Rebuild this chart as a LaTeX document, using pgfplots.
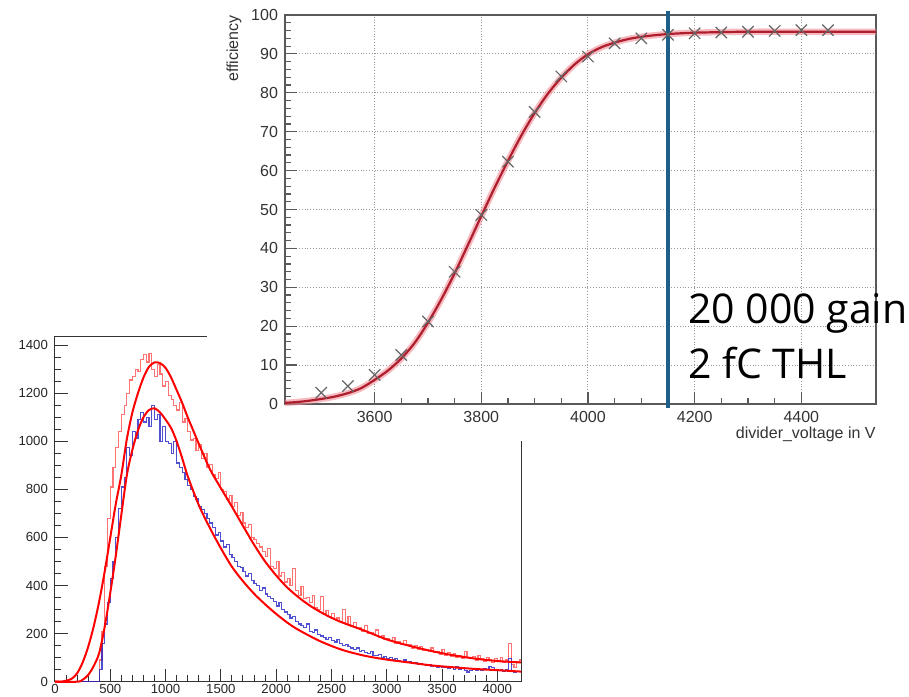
\documentclass[border=0pt]{standalone}
\usepackage{pgfplots}
\usepackage{pgfplotstable}
\pgfplotsset{compat=1.18}
\usepackage{fontspec}
\setmainfont{Liberation Sans}
\newfontfamily\bigfont{Open Sans}
\definecolor{fitred}{RGB}{175,30,45}
\definecolor{halo}{RGB}{240,140,150}
\definecolor{vblue}{RGB}{28,96,138}
\definecolor{hblue}{RGB}{35,35,195}

% efficiency fit curve
\pgfplotstableread{
x y
3432 0.3
3450 0.45
3475 0.8
3500 1.3
3525 1.9
3550 2.8
3575 4.1
3600 6.2
3625 8.6
3650 11.7
3675 15.7
3700 20.9
3725 26.9
3750 33.6
3775 40.9
3800 48.3
3825 55.6
3850 62.5
3875 69.0
3900 74.8
3925 79.8
3950 83.9
3975 87.3
4000 89.9
4025 91.7
4050 92.9
4075 93.8
4100 94.4
4125 94.8
4150 95.1
4175 95.3
4200 95.45
4250 95.6
4300 95.7
4400 95.7
4540 95.7
}\effit

% measured efficiency
\pgfplotstableread{
x y
3500 2.9
3550 4.6
3600 7.5
3650 12.6
3700 21.2
3750 34.0
3800 48.6
3850 62.3
3900 75.1
3950 84.2
4000 89.3
4050 92.7
4100 94.0
4150 94.9
4200 95.3
4250 95.5
4300 95.7
4350 95.9
4400 96.1
4450 96.1
}\effdata

% upper fit (red histogram)
\pgfplotstableread{
x y
0 0
50 0
100 4
150 12
200 35
250 80
300 145
350 230
400 335
450 460
500 600
550 740
600 860
650 1010
700 1120
750 1200
800 1265
850 1310
900 1328
950 1325
1000 1305
1050 1265
1100 1213
1150 1160
1200 1100
1250 1045
1300 990
1400 885
1500 805
1600 728
1700 648
1800 570
1900 500
2000 442
2100 392
2200 352
2300 318
2400 290
2500 266
2600 246
2800 212
3000 176
3200 150
3400 128
3600 110
3800 96
4000 86
4214 80
}\fitup

% lower fit (blue histogram)
\pgfplotstableread{
x y
0 0
200 0
250 8
300 28
350 65
400 120
450 230
500 370
550 525
600 695
650 860
700 965
750 1045
800 1100
850 1130
900 1137
950 1120
1000 1090
1050 1055
1100 1000
1150 930
1200 855
1300 735
1400 640
1500 555
1600 478
1700 418
1800 366
1900 322
2000 282
2100 246
2200 216
2400 168
2600 132
2800 108
3000 92
3200 80
3400 68
3600 60
3800 53
4000 48
4214 42
}\fitlow

\begin{document}
\begin{tikzpicture}
\path[use as bounding box] (0,0) rectangle (454.5pt,348pt);

% ---------------- bottom plot ----------------
\begin{axis}[
  at={(27.5pt,7.15pt)}, anchor=south west, scale only axis,
  width=233pt, height=172.5pt,
  xmin=0, xmax=4214, ymin=0, ymax=1435,
  xtick={0,500,...,4000}, ytick={0,200,...,1400},
  minor x tick num=4, minor y tick num=3,
  tick align=inside, xtick pos=left, ytick pos=left,
  major tick length=6.5pt, minor tick length=3.2pt,
  axis line style={black!80, line width=0.5pt},
  tick style={black!80, line width=0.5pt},
  ticklabel style={font=\fontsize{6.6}{7.5}\selectfont, text=black!85},
  xticklabel style={yshift=2pt},
  /pgf/number format/assume math mode=true,
  /pgf/number format/1000 sep={},
  clip=false,
]
\addplot[const plot, color=red, opacity=0.55, line width=0.6pt] coordinates {
(200,0)(400,90)(425,210)(450,480)(475,680)(500,810)(525,890)(550,975)(575,1040)(600,1110)
(625,1150)(650,1200)(675,1255)(700,1270)(725,1300)(750,1290)(775,1340)(800,1360)(825,1330)(850,1365)
(875,1300)(900,1270)(925,1320)(950,1280)(975,1230)(1000,1250)(1025,1190)(1050,1175)(1075,1150)(1100,1130)
(1125,1160)(1150,1080)(1175,1095)(1200,1040)(1225,1005)(1250,1010)(1275,960)(1300,985)(1325,930)(1350,950)
(1375,890)(1400,905)(1425,860)(1450,845)(1475,870)(1500,800)(1525,790)(1550,760)(1575,775)(1600,730)
(1625,745)(1650,690)(1675,705)(1700,660)(1725,640)(1750,655)(1775,600)(1800,590)(1825,575)(1850,560)
(1875,540)(1900,520)(1925,555)(1950,480)(1975,470)(2000,500)(2025,440)(2050,455)(2075,415)(2100,430)
(2125,400)(2150,470)(2175,380)(2200,360)(2225,395)(2250,345)(2275,350)(2300,330)(2325,360)(2350,310)
(2375,300)(2400,355)(2425,285)(2450,295)(2475,270)(2500,285)(2525,260)(2550,265)(2575,250)(2600,300)
(2625,240)(2650,270)(2675,230)(2700,245)(2725,220)(2750,225)(2775,210)(2800,235)(2825,200)(2850,205)
(2875,195)(2900,215)(2925,185)(2950,190)(2975,175)(3000,180)(3025,170)(3050,185)(3075,160)(3100,165)
(3125,155)(3150,170)(3175,150)(3200,155)(3225,140)(3250,150)(3275,135)(3300,145)(3325,130)(3350,135)
(3375,125)(3400,140)(3425,120)(3450,125)(3475,115)(3500,135)(3525,110)(3550,120)(3575,105)(3600,115)
(3625,100)(3650,110)(3675,95)(3700,125)(3725,100)(3750,95)(3775,105)(3800,90)(3825,110)(3850,95)
(3875,85)(3900,100)(3925,90)(3950,80)(3975,95)(4000,85)(4025,100)(4050,80)(4075,90)(4100,160)
(4125,70)(4150,60)(4175,85)(4200,90)(4214,90)
};
\addplot[const plot, color=hblue, opacity=0.8, line width=0.6pt] coordinates {
(200,0)(400,50)(425,160)(450,240)(475,330)(500,430)(525,500)(550,600)(575,720)(600,810)
(625,850)(650,975)(675,940)(700,1040)(725,1010)(750,1090)(775,1120)(800,1080)(825,1100)(850,1060)
(875,1150)(900,1090)(925,1110)(950,1000)(975,1060)(1000,1000)(1025,990)(1050,950)(1075,1000)(1100,910)
(1125,890)(1150,870)(1175,840)(1200,815)(1225,800)(1250,770)(1275,760)(1300,730)(1325,715)(1350,700)
(1375,680)(1400,660)(1425,640)(1450,610)(1475,620)(1500,585)(1525,560)(1550,570)(1575,530)(1600,515)
(1625,500)(1650,480)(1675,475)(1700,460)(1725,440)(1750,450)(1775,420)(1800,410)(1825,400)(1850,380)
(1875,390)(1900,365)(1925,355)(1950,345)(1975,335)(2000,315)(2025,330)(2050,300)(2075,290)(2100,280)
(2125,265)(2150,270)(2175,250)(2200,240)(2225,235)(2250,225)(2275,240)(2300,210)(2325,205)(2350,215)
(2375,195)(2400,190)(2425,185)(2450,175)(2475,185)(2500,170)(2525,165)(2550,175)(2575,160)(2600,150)
(2625,155)(2650,145)(2675,140)(2700,135)(2725,140)(2750,125)(2775,130)(2800,120)(2825,118)(2850,125)
(2875,110)(2900,108)(2925,112)(2950,100)(2975,105)(3000,98)(3025,102)(3050,92)(3075,95)(3100,88)
(3125,85)(3150,90)(3175,80)(3200,82)(3225,76)(3250,78)(3275,72)(3300,75)(3325,70)(3350,68)
(3375,72)(3400,64)(3425,66)(3450,60)(3475,63)(3500,58)(3525,60)(3550,55)(3575,58)(3600,52)
(3625,62)(3650,50)(3675,54)(3700,48)(3725,40)(3750,46)(3775,52)(3800,48)(3825,50)(3850,45)
(3875,55)(3900,50)(3925,62)(3950,58)(3975,45)(4000,48)(4025,52)(4050,44)(4075,50)(4100,95)
(4125,45)(4150,38)(4175,42)(4200,44)(4214,44)
};
\addplot[red, line width=1pt, smooth] table[x=x,y=y] {\fitup};
\addplot[red, line width=1pt, smooth] table[x=x,y=y] {\fitlow};
\end{axis}

% the top picture lies over the bottom one
\fill[white] (103.5pt,127.5pt) rectangle (454.5pt,348pt);

% ---------------- top plot ----------------
\begin{axis}[
  at={(142.5pt,146pt)}, anchor=south west, scale only axis,
  width=295.5pt, height=194.5pt,
  xmin=3432, xmax=4540, ymin=0, ymax=100,
  xtick={3600,3800,4000,4200,4400}, ytick={0,10,...,100},
  minor x tick num=3, minor y tick num=4,
  tick align=inside, xtick pos=left, ytick pos=left,
  major tick length=6pt, minor tick length=3pt,
  grid=major, major grid style={densely dotted, black!40, line width=0.5pt},
  axis line style={black!65, line width=0.6pt},
  tick style={black!65, line width=0.6pt},
  ticklabel style={font=\fontsize{8}{9}\selectfont, text=black!80},
  /pgf/number format/assume math mode=true,
  /pgf/number format/1000 sep={},
  clip=false,
]
\addplot[halo, opacity=0.6, line width=3.2pt, smooth] table[x=x,y=y] {\effit};
\addplot[fitred, line width=1.1pt, smooth] table[x=x,y=y] {\effit};
\addplot[only marks, mark=x, mark size=4pt, mark options={black!60, line width=0.6pt}] table[x=x,y=y] {\effdata};
\addplot[vblue, line width=2pt] coordinates {(4150,-1) (4150,101)};
\node[rotate=90, anchor=north east, inner sep=0, font=\fontsize{8}{9}\selectfont, text=black!80]
  at (axis description cs:-0.0998,1) {efficiency};
\node[anchor=north east, inner sep=0, font=\fontsize{8}{9}\selectfont, text=black!80]
  at (axis description cs:1,-0.0566) {divider\_voltage in V};
\node[anchor=base west, inner sep=0, font=\bigfont\fontsize{20.5}{24}\selectfont]
  at (axis cs:4187,20.75) {20 000 gain};
\node[anchor=base west, inner sep=0, font=\bigfont\fontsize{20.5}{24}\selectfont]
  at (axis cs:4187,6.6) {2 fC THL};
\end{axis}
\end{tikzpicture}
\end{document}
